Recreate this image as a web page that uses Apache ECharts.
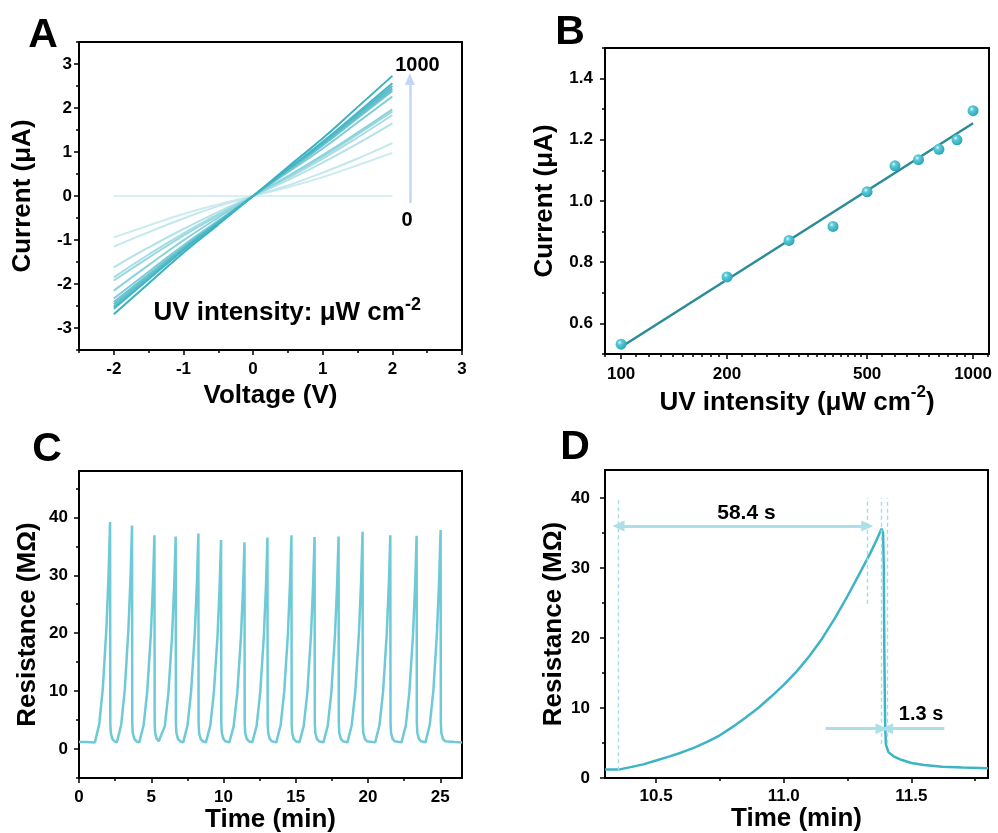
<!DOCTYPE html>
<html><head><meta charset="utf-8">
<script src="https://cdn.jsdelivr.net/npm/echarts@6/dist/echarts.min.js"></script>
<style>html,body{margin:0;padding:0;background:#fff}#c{width:998px;height:833px}</style>
</head><body><div id="c"></div>
<script>
const FONT = '"Liberation Sans", Arial, Helvetica, sans-serif';

// ---------- Panel A: I-V curves ----------
const voltage = [-2, -1.5, -1, -0.5, 0, 0.5, 1, 1.5, 2];
const ivCurrents = [
  [0, 0, 0, 0, 0, 0, 0, 0, 0],
  [-0.94, -0.67, -0.41, -0.19, 0, 0.20, 0.43, 0.70, 0.98],
  [-1.15, -0.82, -0.51, -0.23, 0, 0.24, 0.53, 0.85, 1.20],
  [-1.62, -1.17, -0.75, -0.36, 0, 0.36, 0.76, 1.19, 1.65],
  [-1.85, -1.33, -0.85, -0.41, 0, 0.41, 0.85, 1.33, 1.84],
  [-1.92, -1.40, -0.90, -0.44, 0, 0.44, 0.90, 1.40, 1.92],
  [-2.15, -1.57, -1.01, -0.49, 0, 0.45, 0.93, 1.44, 1.97],
  [-2.33, -1.72, -1.12, -0.56, 0, 0.54, 1.08, 1.67, 2.26],
  [-2.41, -1.78, -1.16, -0.58, 0, 0.57, 1.15, 1.77, 2.39],
  [-2.46, -1.82, -1.18, -0.59, 0, 0.59, 1.17, 1.81, 2.44],
  [-2.52, -1.86, -1.21, -0.60, 0, 0.60, 1.20, 1.85, 2.50],
  [-2.56, -1.89, -1.23, -0.61, 0, 0.61, 1.23, 1.89, 2.56],
  [-2.69, -1.99, -1.29, -0.65, 0, 0.66, 1.31, 2.02, 2.73]
];
const ivColors = ['#d8f0f3','#cbebef','#c2e8ed','#b3e2e8','#a6dde4','#9ad8e0','#8dd3dc',
                  '#7dccd6','#6ec6d1','#60c0cc','#53bbc8','#47b6c4','#3ab1c0'];
const aXTicks = [-2, -1, 0, 1, 2, 3];
const aYTicks = [-3, -2, -1, 0, 1, 2, 3];

// ---------- Panel B: current vs UV intensity ----------
const uvIntensity = [100, 200, 300, 400, 500, 600, 700, 800, 900, 1000];
const photocurrent = [0.532, 0.752, 0.871, 0.917, 1.030, 1.115, 1.135, 1.169, 1.200, 1.295];
const fitIntensity = [100, 1000];
const fitCurrent = [0.523, 1.254];
const bXTicks = [100, 200, 500, 1000];
const bXMinor = [90, 110, 120, 130, 140, 150, 160, 170, 180, 190, 220, 240, 260, 280, 300, 320, 340, 360, 380, 400, 420, 440, 460, 480,
                 550, 600, 650, 700, 750, 800, 850, 900, 950, 1100];
const bYTicks = [0.6, 0.8, 1.0, 1.2, 1.4];

// ---------- Panel C: cyclic resistance ----------
const cTime = [0, 0.5,
  1.10, 1.40, 1.65, 1.90, 2.05, 2.15, 2.165, 2.20, 2.30, 2.45,
  2.62, 2.92, 3.17, 3.42, 3.57, 3.67, 3.685, 3.72, 3.82, 3.97,
  4.17, 4.47, 4.72, 4.97, 5.12, 5.22, 5.235, 5.27, 5.37, 5.52,
  5.64, 5.94, 6.19, 6.44, 6.59, 6.69, 6.705, 6.74, 6.84, 6.99,
  7.21, 7.51, 7.76, 8.01, 8.16, 8.26, 8.275, 8.31, 8.41, 8.56,
  8.78, 9.08, 9.33, 9.58, 9.73, 9.83, 9.845, 9.88, 9.98, 10.13,
  10.40, 10.70, 10.95, 11.20, 11.35, 11.45, 11.465, 11.50, 11.60, 11.75,
  11.99, 12.29, 12.54, 12.79, 12.94, 13.04, 13.055, 13.09, 13.19, 13.34,
  13.65, 13.95, 14.20, 14.45, 14.60, 14.70, 14.715, 14.75, 14.85, 15.00,
  15.25, 15.55, 15.80, 16.05, 16.20, 16.30, 16.315, 16.35, 16.45, 16.60,
  16.91, 17.21, 17.46, 17.71, 17.86, 17.96, 17.975, 18.01, 18.11, 18.26,
  18.57, 18.87, 19.12, 19.37, 19.52, 19.62, 19.635, 19.67, 19.77, 19.92,
  20.49, 20.79, 21.04, 21.29, 21.44, 21.54, 21.555, 21.59, 21.69, 21.84,
  22.31, 22.61, 22.86, 23.11, 23.26, 23.36, 23.375, 23.41, 23.51, 23.66,
  23.97, 24.27, 24.52, 24.77, 24.92, 25.02, 25.035, 25.07, 25.17, 25.32,
  26.0, 26.5];
const cRes = [1.2, 1.2,
  1.15, 4.3, 10.5, 21.0, 30.4, 39.2, 4.5, 2.8, 1.8, 1.35,
  1.15, 4.2, 10.3, 20.7, 29.9, 38.6, 4.5, 2.8, 1.8, 1.35,
  1.15, 4.1, 9.9, 19.7, 28.6, 36.9, 4.5, 2.8, 1.8, 1.35,
  1.15, 4.0, 9.8, 19.6, 28.4, 36.7, 4.5, 2.8, 1.8, 1.35,
  1.15, 4.1, 10.0, 19.9, 28.8, 37.2, 4.5, 2.8, 1.8, 1.35,
  1.15, 4.0, 9.7, 19.3, 28.0, 36.1, 4.5, 2.8, 1.8, 1.35,
  1.15, 3.9, 9.6, 19.1, 27.7, 35.7, 4.5, 2.8, 1.8, 1.35,
  1.15, 4.0, 9.8, 19.5, 28.3, 36.5, 4.5, 2.8, 1.8, 1.35,
  1.15, 4.1, 9.9, 19.7, 28.6, 36.9, 4.5, 2.8, 1.8, 1.35,
  1.15, 4.0, 9.8, 19.6, 28.4, 36.6, 4.5, 2.8, 1.8, 1.35,
  1.15, 4.0, 9.8, 19.6, 28.4, 36.7, 4.5, 2.8, 1.8, 1.35,
  1.15, 4.1, 10.0, 20.1, 29.0, 37.5, 4.5, 2.8, 1.8, 1.35,
  1.15, 4.1, 9.9, 19.7, 28.6, 36.9, 4.5, 2.8, 1.8, 1.35,
  1.15, 4.0, 9.9, 19.7, 28.5, 36.8, 4.5, 2.8, 1.8, 1.35,
  1.15, 4.2, 10.1, 20.2, 29.3, 37.8, 4.5, 2.8, 1.8, 1.35,
  1.2, 1.15];
const cXTicks = [0, 5, 10, 15, 20, 25];
const cYTicks = [0, 10, 20, 30, 40];

// ---------- Panel D: single cycle ----------
const dTime = [10.30, 10.353, 10.40, 10.45, 10.50, 10.55, 10.60, 10.65, 10.70, 10.75, 10.80, 10.85, 10.90, 10.95,
  11.00, 11.05, 11.10, 11.15, 11.20, 11.25, 11.30, 11.34, 11.365, 11.383, 11.389, 11.392, 11.394, 11.397, 11.40,
  11.41, 11.43, 11.46, 11.50, 11.55, 11.62, 11.70, 11.80];
const dRes = [1.2, 1.2, 1.55, 1.95, 2.5, 3.05, 3.65, 4.35, 5.15, 6.1, 7.3, 8.6, 10.0, 11.6,
  13.3, 15.2, 17.4, 19.9, 22.8, 26.0, 29.4, 32.2, 34.1, 35.6, 35.0, 30.0, 18.0, 8.0, 4.8,
  3.7, 3.1, 2.6, 2.15, 1.85, 1.62, 1.5, 1.4];
const dXTicks = [10.5, 11.0, 11.5];
const dYTicks = [0, 10, 20, 30, 40];
const riseStart = 10.353, riseEnd = 11.327, fallStart = 11.383, fallEnd = 11.405;

// ---------- helpers ----------
const BOLD = { fontFamily: FONT, fontWeight: 'bold', color: '#000' };
function minorOf(min, max, step) {
  const out = [];
  for (let v = min; v <= max + 1e-9; v += step) out.push(Math.round(v * 1000) / 1000);
  return out;
}
function axisPair(dim, grid, min, max, major, minor, fmt, name, nameGap, labelMargin, nameRich) {
  const base = { gridIndex: grid, type: 'value', min: min, max: max,
    position: dim === 'x' ? 'bottom' : 'left', splitLine: { show: false } };
  const a = Object.assign({}, base, {
    axisLine: { show: true, onZero: false, lineStyle: { color: '#000', width: 2 } },
    axisTick: { show: true, inside: false, length: 5, lineStyle: { color: '#000', width: 1.5 }, customValues: major },
    axisLabel: Object.assign({ show: true, customValues: major, formatter: fmt, margin: labelMargin, fontSize: 17 }, BOLD),
    name: name, nameLocation: 'middle', nameGap: nameGap,
    nameTextStyle: Object.assign({ fontSize: 26 }, BOLD, nameRich ? { rich: nameRich } : {})
  });
  const b = Object.assign({}, base, {
    axisLine: { show: false, onZero: false },
    axisTick: { show: true, inside: false, length: 3, lineStyle: { color: '#000', width: 1.5 }, customValues: minor },
    axisLabel: { show: false }
  });
  return [a, b];
}
const fmtInt = v => String(Math.round(v));
const fmt1 = v => v.toFixed(1);
const fmtLog = v => String(Math.round(Math.pow(10, v)));
const supRich = {
  m: Object.assign({ fontSize: 26, lineHeight: 32, verticalAlign: 'bottom' }, BOLD),
  s: Object.assign({ fontSize: 17, lineHeight: 16, verticalAlign: 'top' }, BOLD)
};

const xAxes = [].concat(
  axisPair('x', 0, -2.5, 3, aXTicks, minorOf(-2.5, 2.5, 1), fmtInt, 'Voltage (V)', 33, 11),
  axisPair('x', 1, Math.log10(90), Math.log10(1110), bXTicks.map(Math.log10), bXMinor.map(Math.log10), fmtLog,
           '{m|UV intensity (μW cm}{s|-2}{m|)}', 29, 12, supRich),
  axisPair('x', 2, 0, 26.5, cXTicks, minorOf(2.5, 22.5, 5), fmtInt, 'Time (min)', 28, 11),
  axisPair('x', 3, 10.3, 11.8, dXTicks, [10.75, 11.25, 11.75], fmt1, 'Time (min)', 27, 10)
);
const yAxes = [].concat(
  axisPair('y', 0, -3.5, 3.5, aYTicks, minorOf(-3.5, 3.5, 1), fmtInt, 'Current (μA)', 43, 7),
  axisPair('y', 1, 0.5, 1.5, bYTicks, [0.5, 0.7, 0.9, 1.1, 1.3, 1.5], fmt1, 'Current (μA)', 47, 12),
  axisPair('y', 2, -5, 48, cYTicks, [-5, 5, 15, 25, 35, 45], fmtInt, 'Resistance (MΩ)', 38, 11),
  axisPair('y', 3, 0, 44, dYTicks, [5, 15, 25, 35], fmtInt, 'Resistance (MΩ)', 37, 15)
);

const grids = [
  { left: 79, top: 42, width: 383, height: 308 },
  { left: 605, top: 48, width: 384, height: 306 },
  { left: 79, top: 471, width: 383, height: 307 },
  { left: 605, top: 470, width: 383, height: 308 }
].map(g => Object.assign({ show: true, borderColor: '#000', borderWidth: 2, backgroundColor: 'rgba(0,0,0,0)',
  containLabel: false, outerBoundsMode: 'none' }, g));

function textItem(x, y, text, size, extra) {
  return { value: [x, y], label: Object.assign({ show: true, position: 'inside', formatter: text, fontSize: size, opacity: 1 }, BOLD, extra || {}) };
}
const textSeriesBase = { type: 'scatter', symbolSize: 0, silent: true, z: 5,
  itemStyle: { opacity: 1, color: '#000' }, emphasis: { disabled: true } };

const series = [];
// Panel A curves
ivCurrents.forEach((cur, k) => {
  series.push({ type: 'line', xAxisIndex: 0, yAxisIndex: 0, smooth: true, showSymbol: false, silent: true,
    data: voltage.map((v, i) => [v, cur[i]]), lineStyle: { color: ivColors[k], width: 2 }, z: 2 + k / 100 });
});
series.push(Object.assign({}, textSeriesBase, {
  xAxisIndex: 0, yAxisIndex: 0,
  data: [
    textItem(2.36, 2.97, '1000', 20),
    textItem(2.21, -0.55, '0', 20),
    textItem(0.49, -2.62, '{m|UV intensity: μW cm}{s|-2}', 26, { rich: {
      m: Object.assign({ fontSize: 26, lineHeight: 30, verticalAlign: 'bottom' }, BOLD),
      s: Object.assign({ fontSize: 18, lineHeight: 16, verticalAlign: 'top' }, BOLD) } })
  ],
  markLine: { silent: true, symbol: ['none', 'triangle'], symbolSize: [10, 12], label: { show: false },
    lineStyle: { color: '#c3d6f7', width: 2.5, type: 'solid', opacity: 1 },
    data: [[{ coord: [2.25, -0.16] }, { coord: [2.25, 2.66] }]] }
}));
// Panel B
series.push({ type: 'line', xAxisIndex: 2, yAxisIndex: 2, showSymbol: false, silent: true,
  data: fitIntensity.map((x, i) => [Math.log10(x), fitCurrent[i]]), lineStyle: { color: '#2a8c97', width: 2.5 }, z: 3 });
series.push({ type: 'scatter', xAxisIndex: 2, yAxisIndex: 2, symbol: 'circle', symbolSize: 11, silent: true, z: 4,
  data: uvIntensity.map((x, i) => [Math.log10(x), photocurrent[i]]),
  itemStyle: { opacity: 1, color: { type: 'radial', x: 0.38, y: 0.35, r: 0.7, colorStops: [
    { offset: 0, color: '#e6fbfd' }, { offset: 0.28, color: '#5ccad8' }, { offset: 1, color: '#27a2b3' }] } } });
// Panel C
series.push({ type: 'line', xAxisIndex: 4, yAxisIndex: 4, showSymbol: false, silent: true,
  data: cTime.map((t, i) => [t, cRes[i]]), lineStyle: { color: '#6ecad6', width: 2.5 } });
// Panel D
const dashStyle = { color: '#a5dce5', width: 1.4, type: [4, 3], opacity: 1 };
const arrowStyle = { color: '#addfe7', width: 3, type: 'solid', opacity: 1 };
series.push({ type: 'line', xAxisIndex: 6, yAxisIndex: 6, showSymbol: false, silent: true, z: 3,
  data: dTime.map((t, i) => [t, dRes[i]]), lineStyle: { color: '#3db4c5', width: 2.5 },
  markLine: { silent: true, symbol: ['none', 'none'], label: { show: false }, lineStyle: dashStyle,
    data: [
      [{ coord: [riseStart, 1.1], lineStyle: dashStyle }, { coord: [riseStart, 40] }],
      [{ coord: [riseEnd, 24.9], lineStyle: dashStyle }, { coord: [riseEnd, 40] }],
      [{ coord: [fallStart, 4.9], lineStyle: dashStyle }, { coord: [fallStart, 40] }],
      [{ coord: [fallEnd, 4.9], lineStyle: dashStyle }, { coord: [fallEnd, 40] }],
      [{ coord: [riseStart, 36], symbol: 'triangle', symbolSize: [11, 12], lineStyle: arrowStyle },
       { coord: [riseEnd, 36], symbol: 'triangle', symbolSize: [11, 12] }],
      [{ coord: [11.164, 7.05], symbol: 'none', lineStyle: arrowStyle },
       { coord: [fallStart, 7.05], symbol: 'triangle', symbolSize: [11, 12] }],
      [{ coord: [11.629, 7.05], symbol: 'none', lineStyle: arrowStyle },
       { coord: [fallEnd, 7.05], symbol: 'triangle', symbolSize: [11, 12] }]
    ] } });
series.push(Object.assign({}, textSeriesBase, { xAxisIndex: 6, yAxisIndex: 6,
  data: [textItem(10.854, 37.8, '58.4 s', 21), textItem(11.538, 9.05, '1.3 s', 20)] }));

const letter = (t, x, y) => ({ type: 'text', x: x, y: y, silent: true,
  style: { text: t, font: 'bold 41px ' + FONT, fill: '#000', align: 'center', verticalAlign: 'middle' } });

const chart = echarts.init(document.getElementById('c'), null, { renderer: 'canvas' });
chart.setOption({
  animation: false,
  backgroundColor: '#fff',
  grid: grids,
  xAxis: xAxes,
  yAxis: yAxes,
  series: series,
  graphic: [letter('A', 43, 36), letter('B', 570, 33), letter('C', 47, 450), letter('D', 575, 448)]
});
</script></body></html>
